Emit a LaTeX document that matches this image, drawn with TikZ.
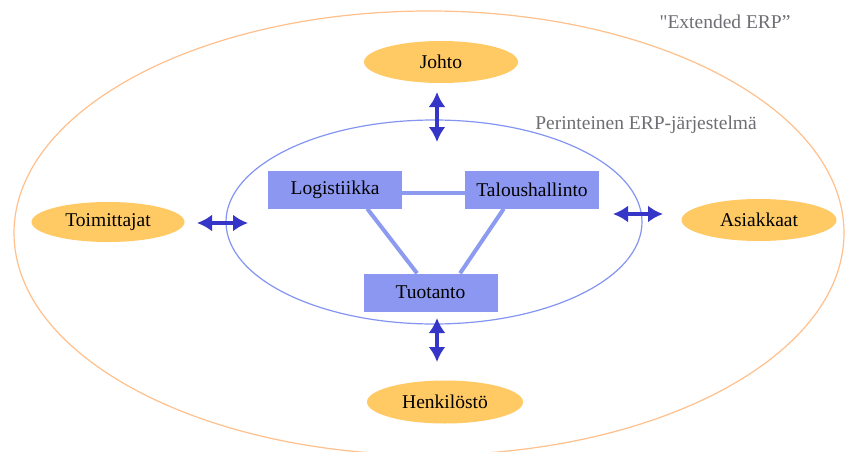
\documentclass[tikz,border=0pt]{standalone}
\usepackage{fontspec}
\setmainfont{Liberation Serif}
\newfontfamily\plainserif[Ligatures=ResetAll]{Liberation Serif}
\usetikzlibrary{arrows.meta,calc,shapes.geometric}

\definecolor{extline}{HTML}{FFC08C}
\definecolor{erpline}{HTML}{8494F2}
\definecolor{partyfill}{HTML}{FFC963}
\definecolor{modfill}{HTML}{8C97F2}
\definecolor{linkcol}{HTML}{8C9BF0}
\definecolor{flowcol}{HTML}{3535C8}
\definecolor{labelgray}{HTML}{6E6E74}

\tikzset{
  party/.style={ellipse, fill=partyfill, inner sep=0pt, minimum width=154pt, minimum height=42pt,
    font=\fontsize{19.5}{22}\selectfont},
  module/.style={rectangle, fill=modfill, inner sep=0pt, minimum width=134pt, minimum height=38pt,
    font=\fontsize{19.5}{22}\selectfont},
  link/.style={draw=linkcol, line width=4pt},
  flow/.style={draw=flowcol, line width=4pt, {Latex[length=15pt,width=17pt]}-{Latex[length=15pt,width=17pt]}},
  zonelabel/.style={text=labelgray, font=\fontsize{19.5}{22}\selectfont}
}

\begin{document}
\begin{tikzpicture}[x=1pt, y=-1pt]
  \useasboundingbox (0,0) rectangle (846,452);
  \fill[white] (0,0) rectangle (846,452);
  \clip (0,0) rectangle (846,452);

  % extended ERP boundary and traditional ERP core
  \draw[extline, line width=1.2pt] (429,233) ellipse [x radius=415, y radius=222];
  \draw[erpline, line width=1.2pt] (434,222) ellipse [x radius=208, y radius=102];

  \node[zonelabel] (extlabel) at (725,22) {{\plainserif"}Extended ERP”};
  \node[zonelabel] (erplabel) at (646,125) {Perinteinen ERP-järjestelmä};

  % core modules
  \node[module] (logi) at (335,189.5) {Logistiikka};
  \node[module] (talous) at (532,189.5) {Taloushallinto};
  \node[module] (tuot) at (430.5,292.5) {Tuotanto};

  \draw[link] ($(logi.east)+(0,3)$) -- ($(talous.west)+(0,3)$);
  \draw[link] ($(logi.south west)!0.74!(logi.south east)$) -- ($(tuot.north west)!0.40!(tuot.north east)$);
  \draw[link] ($(talous.south west)!0.29!(talous.south east)$) -- ($(tuot.north west)!0.72!(tuot.north east)$);

  % external parties
  \node[party] (johto) at (441,62) {Johto};
  \node[party, minimum width=153pt, minimum height=40pt] (toim) at (108,222) {Toimittajat};
  \node[party, minimum width=155pt] (asiak) at (759,220) {Asiakkaat};
  \node[party, minimum width=156pt, minimum height=43pt] (henk) at (445,402) {Henkilöstö};

  % information flows
  \coordinate (jA) at (437,92);   \coordinate (jB) at (437,142);
  \coordinate (hA) at (437,318);  \coordinate (hB) at (437,362);
  \coordinate (tA) at (197,223);  \coordinate (tB) at (248,223);
  \coordinate (aA) at (613,214);  \coordinate (aB) at (663,214);

  \draw[flow] (jA) -- (jB);
  \draw[flow] (hA) -- (hB);
  \draw[flow] (tA) -- (tB);
  \draw[flow] (aA) -- (aB);
\end{tikzpicture}
\end{document}
